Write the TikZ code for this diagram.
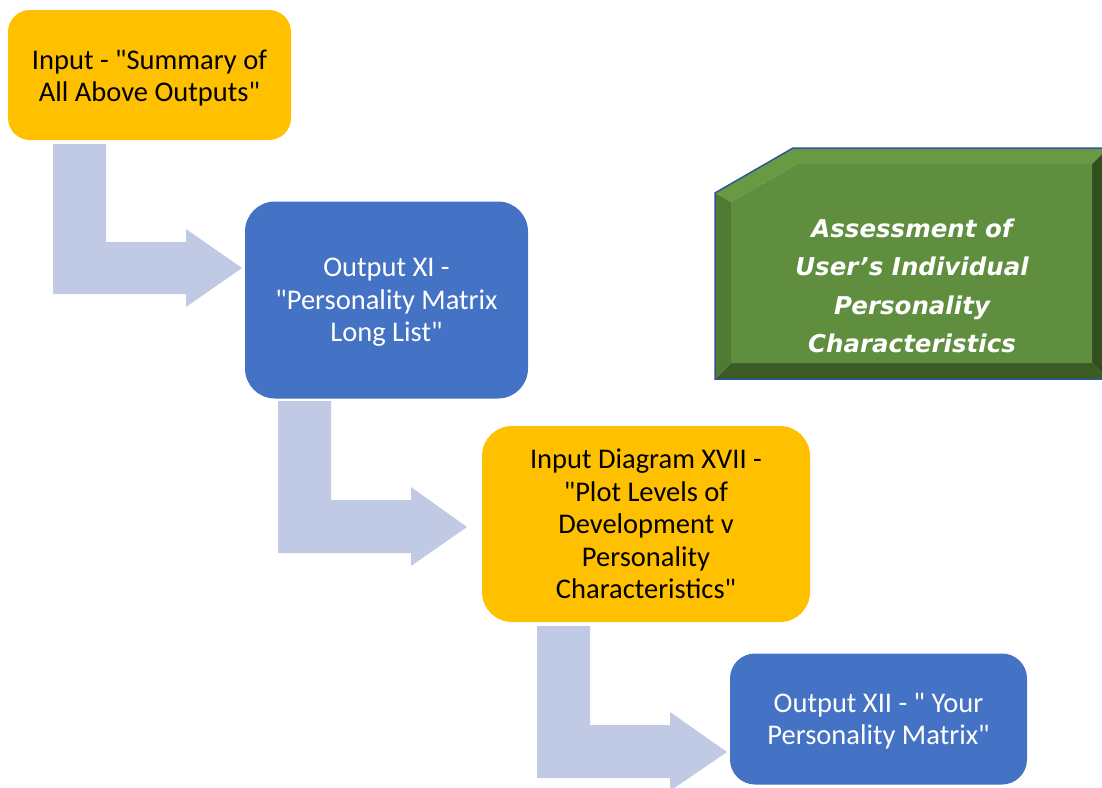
\documentclass[tikz,border=0pt]{standalone}
\usepackage{fontspec}
\setmainfont{Carlito}[Ligatures=TeXOff]
\newfontfamily\greenfont{DejaVu Sans}
\definecolor{boxorange}{RGB}{255,192,0}
\definecolor{boxblue}{RGB}{68,114,196}
\definecolor{arrowblue}{RGB}{192,202,228}
\definecolor{gface}{RGB}{94,142,62}
\definecolor{gtop}{RGB}{104,154,68}
\definecolor{gleft}{RGB}{78,122,50}
\definecolor{gbottom}{RGB}{58,92,36}
\definecolor{gright}{RGB}{48,78,30}
\definecolor{goutline}{RGB}{47,85,151}
\begin{document}
\begin{tikzpicture}[x=1pt,y=-1pt,
  flowbox/.style={rounded corners=#1, inner sep=0pt},
  orangebox/.style={flowbox=#1, fill=boxorange},
  bluebox/.style={flowbox=#1, fill=boxblue},
  flowtext/.style={inner sep=0pt, align=center, font=\fontsize{28.5}{32.5}\selectfont},
  darktext/.style={flowtext, text=black},
  lighttext/.style={flowtext, text=white},
  bentarrow/.style={fill=arrowblue}]
\useasboundingbox (0,0) rectangle (1102,787);
\begin{scope}
\clip (0,0) rectangle (1102,787);

% boxes
\node[orangebox=22, minimum width=283pt, minimum height=130pt] (in1) at (149.5,75) {};
\node[darktext] (in1text) at ([yshift=-3pt]in1.center)
  {Input - "Summary of\\All Above Outputs"};
\node[bluebox=30, minimum width=283pt, minimum height=197pt] (out11) at (386.5,300) {};
\node[lighttext] (out11text) at ([yshift=-2.5pt]out11.center)
  {Output XI -\\"Personality Matrix\\Long List"};
\node[orangebox=30, minimum width=328pt, minimum height=196pt] (in17) at (646,524) {};
\node[darktext] (in17text) at (in17.center)
  {Input Diagram XVII -\\"Plot Levels of\\Development v\\Personality\\Characteristics"};
\node[bluebox=25, minimum width=297pt, minimum height=131pt] (out12) at (878.5,719) {};
\node[lighttext] (out12text) at ([yshift=-2pt]out12.center)
  {Output XII - " Your\\Personality Matrix"};

% bent arrows
\fill[bentarrow] (53,144) -- (106,144) -- (106,242) -- (186,242) -- (186,229)
  -- (242,268) -- (186,307) -- (186,294) -- (53,294) -- cycle;
\fill[bentarrow] (278,401) -- (331,401) -- (331,500) -- (411,500) -- (411,487)
  -- (467,527) -- (411,566) -- (411,553) -- (278,553) -- cycle;
\fill[bentarrow] (537,626) -- (590,626) -- (590,725) -- (670,725) -- (670,712)
  -- (727,752) -- (670,791) -- (670,778) -- (537,778) -- cycle;

% bevelled green box
\fill[gtop] (715,193) -- (793,148) -- (1108,148) -- (1092,164) -- (797,164) -- (731,202) -- cycle;
\fill[gleft] (715,193) -- (731,202) -- (731,363) -- (715,379) -- cycle;
\fill[gbottom] (715,379) -- (731,363) -- (1092,363) -- (1108,379) -- cycle;
\fill[gright] (1108,148) -- (1108,379) -- (1092,363) -- (1092,164) -- cycle;
\fill[gface] (731,202) -- (797,164) -- (1092,164) -- (1092,363) -- (731,363) -- cycle;
\draw[goutline, line width=1.5pt] (1108,148) -- (793,148) -- (715,193) -- (715,379) -- (1108,379);
\node[text=white, align=center, inner sep=0pt,
  font=\greenfont\bfseries\itshape\fontsize{24.5}{38.5}\selectfont] (assess) at (912,286)
  {Assessment of\\User’s Individual\\Personality\\Characteristics};
\end{scope}
\end{tikzpicture}
\end{document}
